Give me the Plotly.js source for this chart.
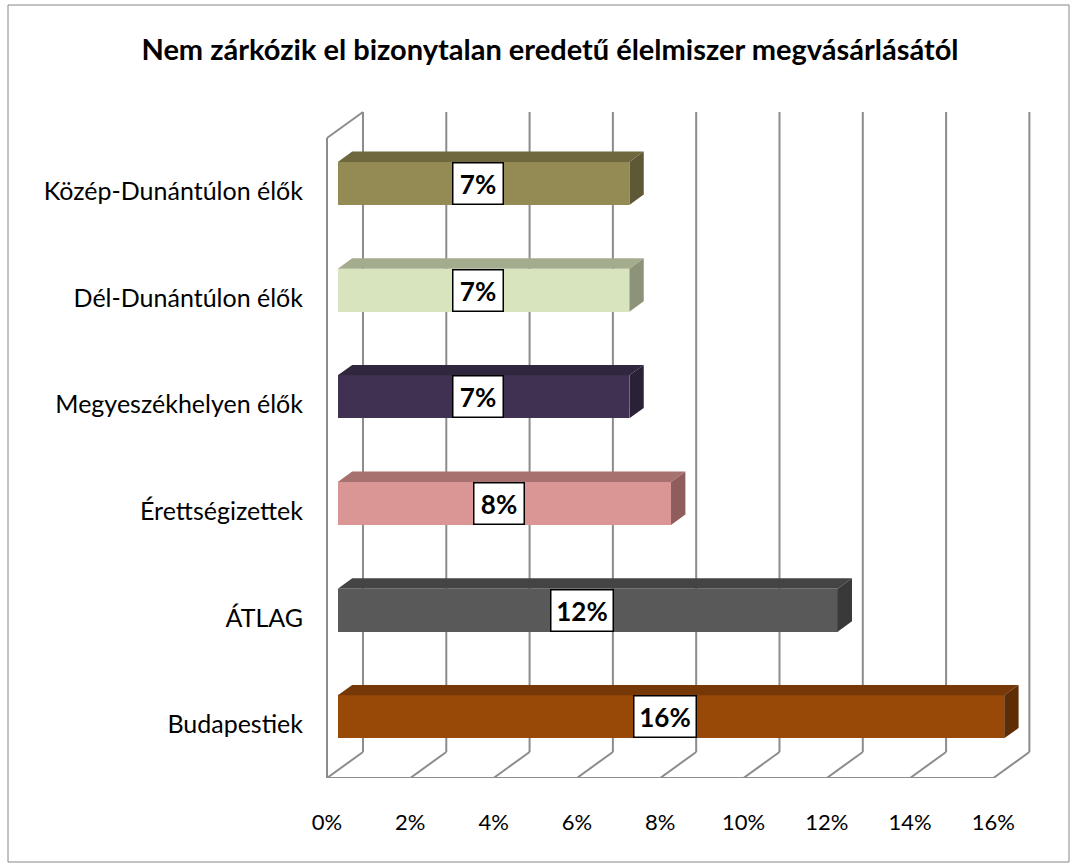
<!DOCTYPE html>
<html>
<head>
<meta charset="utf-8">
<script src="https://cdn.plot.ly/plotly-3.0.1.min.js"></script>
<style>html,body{margin:0;padding:0;background:#fff;}#chart{width:1076px;height:865px;}</style>
</head>
<body>
<div id="chart"></div>
<script>
// ---- data ----
const categories = ['Budapestiek', 'ÁTLAG', 'Érettségizettek', 'Megyeszékhelyen élők', 'Dél-Dunántúlon élők', 'Közép-Dunántúlon élők'];
const values = [16, 12, 8, 7, 7, 7];
const valueLabels = ['16%', '12%', '8%', '7%', '7%', '7%'];
const xTickVals = [0, 2, 4, 6, 8, 10, 12, 14, 16];
const xTickText = ['0%', '2%', '4%', '6%', '8%', '10%', '12%', '14%', '16%'];
const titleText = 'Nem zárkózik el bizonytalan eredetű élelmiszer megvásárlásától';

// ---- style ----
const frontColors = ['#984807', '#595959', '#D99694', '#403152', '#D7E4BD', '#948A54'];
const topColors   = ['#763806', '#444444', '#A7716F', '#30263D', '#A4AC8E', '#6F683F'];
const sideColors  = ['#5F2D04', '#393939', '#8F5D5C', '#2B2137', '#8C9379', '#5F5836'];
const FONT = 'Lato, "Open Sans", sans-serif';
const GRID = '#8C8C8C';

// 3D depth offset in data units
const DX = 0.864;   // depth shift along x
const DY = 0.244;   // depth shift along y
const d1 = 0.3, d2 = 0.7;   // bar front/back depth fractions
const H = 0.2016;           // half bar thickness

const xMax = xTickVals[xTickVals.length - 1];
const yFloor = -0.5, yTop = categories.length - 0.5;

const shapes = [];
const line = (x0, y0, x1, y1) => shapes.push({type: 'line', xref: 'x', yref: 'y', x0, y0, x1, y1, layer: 'below', line: {color: GRID, width: 2}});
// back wall gridlines and floor diagonals
xTickVals.forEach(t => {
  line(t + DX, yFloor + DY, t + DX, yTop + DY);
  line(t, yFloor, t + DX, yFloor + DY);
});
// floor front edge
line(0, yFloor, xMax, yFloor);
// side wall edges
line(0, yFloor, 0, yTop);
line(0, yTop, DX, yTop + DY);
// chart area border
const L = 306, W = 744, T = 100, PH = 678;
shapes.push({type: 'rect', xref: 'paper', yref: 'paper',
  x0: (8 - L) / W, x1: (1069 - L) / W, y0: (T + PH - 862) / PH, y1: (T + PH - 5) / PH,
  line: {color: '#868686', width: 1}, layer: 'below'});

const traces = [];
// front faces of the bars
traces.push({
  type: 'bar', orientation: 'h',
  x: values,
  base: values.map(() => d1 * DX),
  y: values.map((_, i) => i + d1 * DY),
  width: values.map(() => 2 * H),
  marker: {color: frontColors, line: {width: 0}},
  hoverinfo: 'skip', showlegend: false
});
// top and side faces
values.forEach((v, i) => {
  const c = i + d1 * DY;
  const ddx = (d2 - d1) * DX, ddy = (d2 - d1) * DY;
  const x0 = d1 * DX, x1 = v + d1 * DX;
  traces.push({
    type: 'scatter', mode: 'lines', fill: 'toself', fillcolor: topColors[i],
    x: [x0, x1, x1 + ddx, x0 + ddx, x0],
    y: [c + H, c + H, c + H + ddy, c + H + ddy, c + H],
    line: {width: 0, color: topColors[i]}, hoverinfo: 'skip', showlegend: false
  });
  traces.push({
    type: 'scatter', mode: 'lines', fill: 'toself', fillcolor: sideColors[i],
    x: [x1, x1 + ddx, x1 + ddx, x1, x1],
    y: [c - H, c - H + ddy, c + H + ddy, c + H, c - H],
    line: {width: 0, color: sideColors[i]}, hoverinfo: 'skip', showlegend: false
  });
});

const annotations = values.map((v, i) => ({
  x: v / 2 + 0.12, y: i + d1 * DY, xref: 'x', yref: 'y',
  text: '<b>' + valueLabels[i] + '</b>', showarrow: false,
  font: {family: FONT, size: 26, color: '#000'},
  bgcolor: '#FFFFFF', bordercolor: '#000000', borderwidth: 1.5, borderpad: 0,
  width: valueLabels[i].length > 2 ? 61 : 49, height: 40
}));

const layout = {
  width: 1076, height: 865,
  margin: {l: L, r: 1076 - L - W, t: T, b: 865 - T - PH},
  paper_bgcolor: '#FFFFFF', plot_bgcolor: 'rgba(0,0,0,0)',
  showlegend: false,
  title: {text: '<b>' + titleText + '</b>', font: {family: FONT, size: 29, color: '#000'},
          xref: 'container', yref: 'container', x: 550 / 1076, y: 1 - 50 / 865, xanchor: 'center', yanchor: 'middle'},
  xaxis: {range: [-21 / 41.65, (1050 - 327) / 41.65], tickvals: xTickVals, ticktext: xTickText,
          showgrid: false, zeroline: false, showline: false, ticks: '', ticklabelstandoff: 29,
          tickfont: {family: FONT, size: 22, color: '#000'}, fixedrange: true},
  yaxis: {range: [-0.5, -0.5 + PH / 106.67], tickvals: categories.map((_, i) => i), ticktext: categories,
          showgrid: false, zeroline: false, showline: false, ticks: '', ticklabelstandoff: 2,
          tickfont: {family: FONT, size: 25, color: '#000'}, fixedrange: true},
  shapes, annotations, bargap: 0
};

Plotly.newPlot('chart', traces, layout, {displayModeBar: false, staticPlot: true});
</script>
</body>
</html>
